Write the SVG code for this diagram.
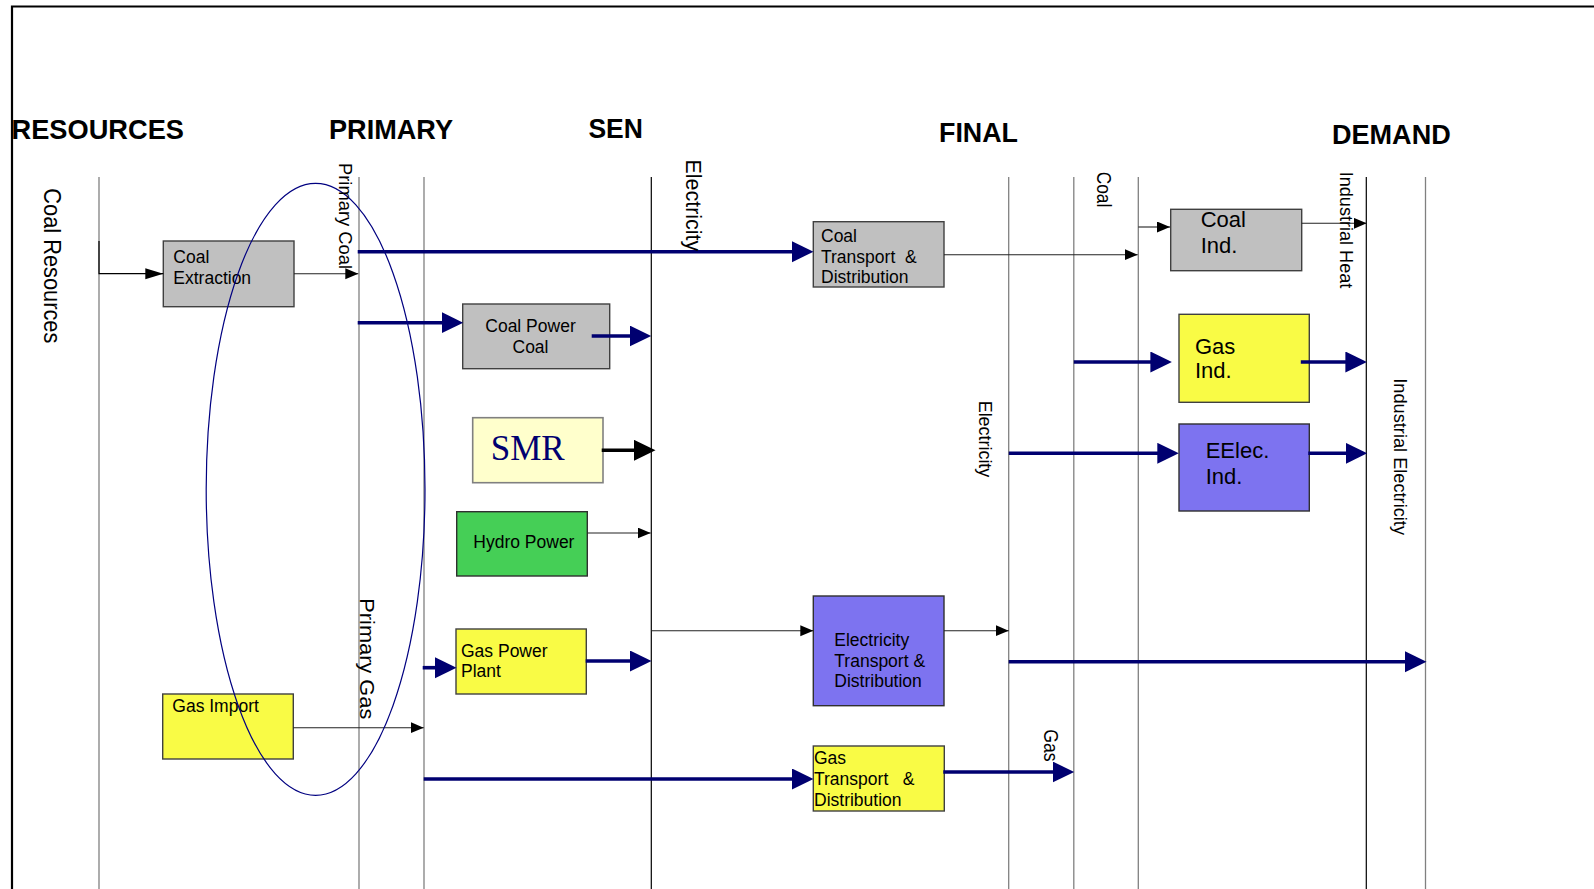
<svg xmlns="http://www.w3.org/2000/svg" width="1594" height="889" viewBox="0 0 1594 889">
  <style>
    .hdr { font-family: "Liberation Sans", Arial, sans-serif; font-weight: bold; font-size: 28.5px; fill: #000; }
    .vlab { font-family: "Liberation Sans", Arial, sans-serif; fill: #000; }
    .txt { font-family: "Liberation Sans", Arial, sans-serif; font-size: 17.5px; fill: #000; }
    .big { font-family: "Liberation Sans", Arial, sans-serif; font-size: 22px; fill: #000; }
    .lane { stroke: #808080; stroke-width: 1.3; fill: none; }
    .lane-dark { stroke: #000; stroke-width: 1.2; fill: none; }
    .gray { fill: #C0C0C0; stroke: #404040; stroke-width: 1.4; }
    .yellow { fill: #F9FB45; stroke: #404040; stroke-width: 1.4; }
    .purple { fill: #7D73F0; stroke: #303030; stroke-width: 1.4; }
    .green { fill: #45CF56; stroke: #303030; stroke-width: 1.4; }
    .cream { fill: #FFFFCC; stroke: #808080; stroke-width: 1.6; }
    .flow { stroke: #000070; stroke-width: 3.6; fill: none; marker-end: url(#navyHead); }
    .flow-black { stroke: #000; stroke-width: 3.6; fill: none; marker-end: url(#blackHead); }
    .thin { stroke: #222; stroke-width: 1.1; fill: none; marker-end: url(#thinHead); }
  </style>
  <defs>
    <marker id="navyHead" markerUnits="userSpaceOnUse" markerWidth="22" markerHeight="22" refX="9" refY="10.5" orient="auto">
      <path d="M0,0 L21.5,10.5 L0,21 z" fill="#000070"/>
    </marker>
    <marker id="blackHead" markerUnits="userSpaceOnUse" markerWidth="22" markerHeight="22" refX="9" refY="10.5" orient="auto">
      <path d="M0,0 L21.5,10.5 L0,21 z" fill="#000"/>
    </marker>
    <marker id="thinHead" markerUnits="userSpaceOnUse" markerWidth="14" markerHeight="12" refX="13" refY="5.5" orient="auto">
      <path d="M0,0 L13,5.5 L0,11 z" fill="#000"/>
    </marker>
    <marker id="thinLong" markerUnits="userSpaceOnUse" markerWidth="19" markerHeight="12" refX="18" refY="5.5" orient="auto">
      <path d="M0,0 L18,5.5 L0,11 z" fill="#000"/>
    </marker>
  </defs>

  <rect width="1594" height="889" fill="#fff"/>

  <!-- page frame -->
  <path d="M12,889 V6.5 H1594" fill="none" stroke="#000" stroke-width="2.2"/>

  <!-- stage boundaries -->
  <g id="lanes">
    <line class="lane" x1="99" y1="177" x2="99" y2="889"/>
    <line class="lane" x1="359" y1="177" x2="359" y2="889"/>
    <line class="lane" x1="424" y1="177" x2="424" y2="889"/>
    <line class="lane-dark" x1="651.3" y1="177" x2="651.3" y2="889"/>
    <line class="lane" x1="1008.7" y1="177" x2="1008.7" y2="889"/>
    <line class="lane" x1="1073.8" y1="177" x2="1073.8" y2="889"/>
    <line class="lane" x1="1138.3" y1="177" x2="1138.3" y2="889" stroke="#444"/>
    <line class="lane-dark" x1="1366.3" y1="177" x2="1366.3" y2="889"/>
    <line class="lane" x1="1425.5" y1="177" x2="1425.5" y2="889"/>
  </g>

  <!-- stage headings -->
  <g id="headings">
    <text class="hdr" x="11.5" y="139" textLength="172.5" lengthAdjust="spacingAndGlyphs">RESOURCES</text>
    <text class="hdr" x="329" y="139.3" textLength="124" lengthAdjust="spacingAndGlyphs">PRIMARY</text>
    <text class="hdr" x="588.4" y="138.3" textLength="54.5" lengthAdjust="spacingAndGlyphs">SEN</text>
    <text class="hdr" x="939" y="142.3" textLength="79" lengthAdjust="spacingAndGlyphs">FINAL</text>
    <text class="hdr" x="1332" y="144" textLength="118.7" lengthAdjust="spacingAndGlyphs">DEMAND</text>
  </g>

  <!-- process boxes -->
  <g id="coal-extraction">
    <rect class="gray" x="163.3" y="241" width="130.7" height="65.7"/>
    <text class="txt" x="173.3" y="263.3">Coal</text>
    <text class="txt" x="173.3" y="284.3">Extraction</text>
  </g>
  <g id="coal-power">
    <rect class="gray" x="462.7" y="304" width="147" height="64.7"/>
    <text class="txt" x="530.5" y="331.7" text-anchor="middle">Coal Power</text>
    <text class="txt" x="530.5" y="352.7" text-anchor="middle">Coal</text>
  </g>
  <g id="smr">
    <rect class="cream" x="472.7" y="417.7" width="130.3" height="65"/>
    <text x="490.7" y="460" font-family="Liberation Serif, 'Times New Roman', serif" font-size="35" fill="#000070">SMR</text>
  </g>
  <g id="hydro-power">
    <rect class="green" x="456.7" y="511.7" width="130.6" height="64.3"/>
    <text class="txt" x="473.3" y="547.7">Hydro Power</text>
  </g>
  <g id="gas-power-plant">
    <rect class="yellow" x="456" y="629" width="130.3" height="65"/>
    <text class="txt" x="461" y="656.7">Gas Power</text>
    <text class="txt" x="461" y="677.3">Plant</text>
  </g>
  <g id="gas-import">
    <rect class="yellow" x="162.7" y="694" width="130.6" height="65"/>
    <text class="txt" x="172.3" y="712.3">Gas Import</text>
  </g>
  <g id="coal-transport">
    <rect class="gray" x="813.3" y="221.7" width="130.7" height="65.3"/>
    <text class="txt" x="821" y="242">Coal</text>
    <text class="txt" x="821" y="262.7">Transport &#160;&amp;</text>
    <text class="txt" x="821" y="283.3">Distribution</text>
  </g>
  <g id="electricity-transport">
    <rect class="purple" x="813.3" y="596" width="130.7" height="109.7"/>
    <text class="txt" x="834.3" y="646">Electricity</text>
    <text class="txt" x="834.3" y="666.7">Transport &amp;</text>
    <text class="txt" x="834.3" y="687.3">Distribution</text>
  </g>
  <g id="gas-transport">
    <rect class="yellow" x="813.3" y="746" width="131" height="65"/>
    <text class="txt" x="814" y="764.3">Gas</text>
    <text class="txt" x="814" y="785">Transport &#160; &amp;</text>
    <text class="txt" x="814" y="805.7">Distribution</text>
  </g>
  <g id="coal-ind">
    <rect class="gray" x="1170.7" y="209.3" width="131" height="61.4"/>
    <text class="big" x="1200.7" y="226.7">Coal</text>
    <text class="big" x="1200.7" y="252.7">Ind.</text>
  </g>
  <g id="gas-ind">
    <rect class="yellow" x="1179" y="314.3" width="130.3" height="88"/>
    <text class="big" x="1195" y="354.3">Gas</text>
    <text class="big" x="1195" y="378.3">Ind.</text>
  </g>
  <g id="elec-ind">
    <rect class="purple" x="1179" y="424" width="130.3" height="87"/>
    <text class="big" x="1205.7" y="458.3">EElec.</text>
    <text class="big" x="1205.7" y="484">Ind.</text>
  </g>

  <!-- flows between stages -->
  <g id="connectors">
    <path d="M99,241 V273.7 H163.3" stroke="#000" stroke-width="1.2" fill="none" marker-end="url(#thinLong)"/>
    <path class="thin" d="M294,273.7 H358.3"/>
    <path class="thin" d="M944,254.7 H1137.7"/>
    <path class="thin" d="M1138.3,227 H1170"/>
    <path class="thin" d="M1301.7,223.3 H1366.7"/>
    <path class="thin" d="M587.3,533 H650.7"/>
    <path class="thin" d="M651.6,630.7 H813.3"/>
    <path class="thin" d="M944,630.7 H1008.7"/>
    <path class="thin" d="M293.3,727.7 H423.7"/>

    <path class="flow" d="M357.7,251.7 H801"/>
    <path class="flow" d="M357.7,322.7 H450.7"/>
    <path class="flow" d="M591.7,336 H638.7"/>
    <path class="flow-black" d="M601.7,450.3 H643"/>
    <path class="flow" d="M422.7,667.7 H444"/>
    <path class="flow" d="M585.7,661 H639"/>
    <path class="flow" d="M423.7,779 H801"/>
    <path class="flow" d="M943.3,772 H1061.7"/>
    <path class="flow" d="M1008.7,661.7 H1414"/>
    <path class="flow" d="M1073.8,362 H1159.4"/>
    <path class="flow" d="M1300.8,362 H1354.4"/>
    <path class="flow" d="M1008.8,453.3 H1166.3"/>
    <path class="flow" d="M1308.3,453.3 H1354.7"/>
  </g>

  <!-- primary energy grouping -->
  <ellipse cx="315.6" cy="489.3" rx="109.4" ry="306" fill="none" stroke="#000080" stroke-width="1.2"/>

  <!-- carrier labels along the stage lines -->
  <g id="carrier-labels" class="vlab">
    <text transform="translate(44,188.3) rotate(90)" font-size="24" textLength="155" lengthAdjust="spacingAndGlyphs">Coal Resources</text>
    <text transform="translate(338.8,163) rotate(90)" font-size="18" textLength="106" lengthAdjust="spacingAndGlyphs">Primary Coal</text>
    <text transform="translate(685.5,159.6) rotate(90)" font-size="21.5" textLength="91.5" lengthAdjust="spacingAndGlyphs">Electricity</text>
    <text transform="translate(1097.2,171.7) rotate(90)" font-size="21" textLength="35.6" lengthAdjust="spacingAndGlyphs">Coal</text>
    <text transform="translate(1339.5,171.7) rotate(90)" font-size="19" textLength="116.6" lengthAdjust="spacingAndGlyphs">Industrial Heat</text>
    <text transform="translate(978.8,400.7) rotate(90)" font-size="18" textLength="76.6" lengthAdjust="spacingAndGlyphs">Electricity</text>
    <text transform="translate(1393.8,378.3) rotate(90)" font-size="18" textLength="156.7" lengthAdjust="spacingAndGlyphs">Industrial Electricity</text>
    <text transform="translate(360.4,598.3) rotate(90)" font-size="21" textLength="121" lengthAdjust="spacingAndGlyphs">Primary Gas</text>
    <text transform="translate(1043.5,729.3) rotate(90)" font-size="20" textLength="32.4" lengthAdjust="spacingAndGlyphs">Gas</text>
  </g>
</svg>
